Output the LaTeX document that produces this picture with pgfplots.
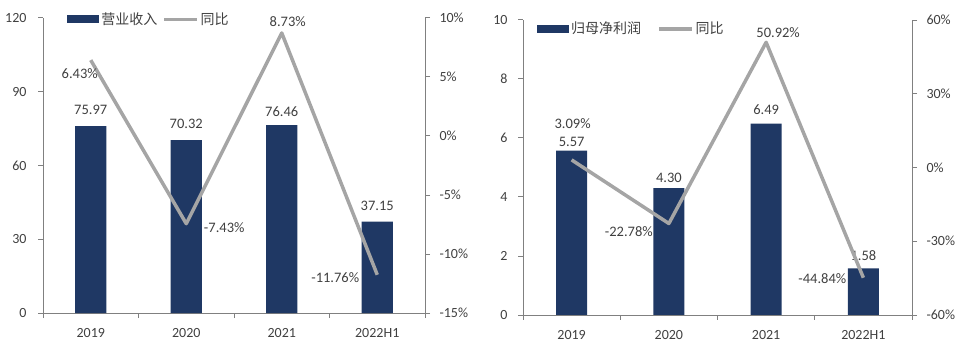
\documentclass[border=0pt]{standalone}
\usepackage{pgfplots}
\pgfplotsset{compat=1.18}
\usepackage{fontspec}
\setmainfont{Carlito}
\newfontfamily\cjk{Noto Sans CJK SC}
\definecolor{barc}{RGB}{31,56,100}
\definecolor{lnc}{RGB}{165,165,165}
\definecolor{axc}{RGB}{128,128,128}
\definecolor{txc}{RGB}{64,64,64}
\pgfplotsset{
  base/.style={scale only axis, height=295bp, xmin=-0.5, xmax=3.5,
    anchor=south west, clip=false,
    axis line style={axc, line width=1pt},
    tick style={axc, line width=1pt},
    major tick length=5bp, tick align=outside,
    ticklabel style={font=\fontsize{14bp}{16bp}\selectfont, text=txc},
    xticklabel style={yshift=-7bp},
  },
  lab/.style={draw=none, mark=none, forget plot, nodes near coords, point meta=explicit symbolic,
    visualization depends on={\thisrow{dx}\as\dx},
    visualization depends on={\thisrow{dy}\as\dy},
    nodes near coords style={anchor=center, xshift=\dx bp, yshift=\dy bp, text=txc,
      font=\fontsize{14.5bp}{16bp}\selectfont, inner sep=0pt}},
  barleg/.style={legend image code/.code={\fill[barc] (0bp,-4bp) rectangle (32bp,4bp);}},
  lnleg/.style={legend image code/.code={\draw[lnc, line width=3.5bp] (0bp,0bp) -- (33bp,0bp);}},
}
\begin{document}
\begin{tikzpicture}
\path[use as bounding box] (0,0) rectangle (959bp,362bp);
% ---------------- left panel
\begin{axis}[base, width=382bp, at={(43bp,49bp)},
  axis y line*=left, axis x line*=bottom,
  ymin=0, ymax=120, ytick={0,30,60,90,120}, yticklabels={0,30,60,90,120},
  yticklabel style={xshift=-8bp},
  xtick={-0.5,0.5,1.5,2.5,3.5}, x tick label as interval,
  xticklabels={2019,2020,2021,2022H1},
  legend style={draw=none, fill=none, inner sep=0pt, at={(0.063,0.995)}, anchor=west,
    font=\cjk\fontsize{14bp}{16bp}\selectfont, text=txc,
    /tikz/every even column/.append style={column sep=3bp}},
  legend columns=2]
\addplot[ybar, fill=barc, draw=none, bar width=0.325, barleg] coordinates {(0,75.97) (1,70.32) (2,76.46) (3,37.15)};
\addlegendentry{营业收入}
\addlegendimage{lnleg}
\addlegendentry{同比}
\addplot[lab] table[meta=lab] {
x y dx dy lab
0 75.97 0 16 75.97
1 70.32 0 16 70.32
2 76.46 0 13 76.46
3 37.15 0 16 37.15
};
\end{axis}
\begin{axis}[base, width=382bp, at={(43bp,49bp)},
  axis y line*=right, axis x line=none,
  ymin=-15, ymax=10, ytick={-15,-10,-5,0,5,10},
  yticklabel style={xshift=6bp},
  yticklabels={-15\%,-10\%,-5\%,0\%,5\%,10\%}]
\addplot[lnc, line width=3.5bp, mark=none, line join=round] coordinates {(0,6.43) (1,-7.43) (2,8.73) (3,-11.76)};
\addplot[lab, nodes near coords={\pgfplotspointmeta\%}] table[meta=lab] {
x y dx dy lab
0 6.43 -11 -13 6.43
1 -7.43 38 -4 -7.43
2 8.73 6 11 8.73
3 -11.76 -42 -3 -11.76
};
\end{axis}
% ---------------- right panel
\begin{axis}[base, width=389bp, at={(523bp,47bp)},
  axis y line*=left, axis x line*=bottom,
  ymin=0, ymax=10, ytick={0,2,4,6,8,10}, yticklabels={0,2,4,6,8,10},
  yticklabel style={xshift=-7bp},
  xtick={-0.5,0.5,1.5,2.5,3.5}, x tick label as interval,
  xticklabels={2019,2020,2021,2022H1},
  legend style={draw=none, fill=none, inner sep=0pt, at={(0.036,0.97)}, anchor=west,
    font=\cjk\fontsize{14bp}{16bp}\selectfont, text=txc,
    /tikz/every even column/.append style={column sep=14bp}},
  legend columns=2]
\addplot[ybar, fill=barc, draw=none, bar width=0.32, barleg] coordinates {(0,5.57) (1,4.30) (2,6.49) (3,1.58)};
\addlegendentry{归母净利润}
\addlegendimage{lnleg}
\addlegendentry{同比}
\addplot[lab] table[meta=lab] {
x y dx dy lab
0 5.57 0 9 5.57
1 4.30 0 10 4.30
2 6.49 0 14 6.49
3 1.58 0 13 1.58
};
\end{axis}
\begin{axis}[base, width=389bp, at={(523bp,47bp)},
  axis y line*=right, axis x line=none,
  ymin=-60, ymax=60, ytick={-60,-30,0,30,60},
  yticklabel style={xshift=6bp},
  yticklabels={-60\%,-30\%,0\%,30\%,60\%}]
\addplot[lnc, line width=3.5bp, mark=none, line join=round] coordinates {(0,3.09) (1,-22.78) (2,50.92) (3,-44.84)};
\addplot[lab, nodes near coords={\pgfplotspointmeta\%}] table[meta=lab] {
x y dx dy lab
0 3.09 1 36 3.09
1 -22.78 -40 -8 -22.78
2 50.92 12 10 50.92
3 -44.84 -41 -1 -44.84
};
\end{axis}
\end{tikzpicture}
\end{document}
